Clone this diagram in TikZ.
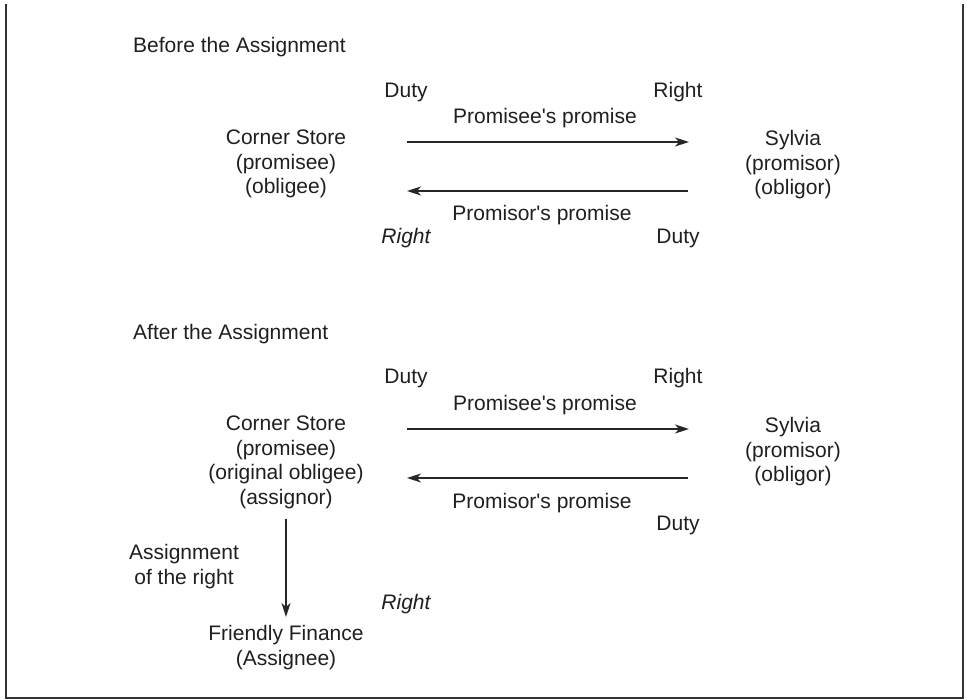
\documentclass[tikz,border=0pt]{standalone}
\usepackage{fontspec}
\setmainfont{Liberation Sans}
\usetikzlibrary{arrows.meta}
\begin{document}
\begin{tikzpicture}[x=1pt,y=-1pt,
  lbl/.style={inner sep=0pt, anchor=base, font=\fontsize{21}{24.5}\selectfont, text=black!88},
  blk/.style={lbl, align=center},
  title/.style={lbl, anchor=base west},
  arr/.style={line width=1.4pt, draw=black!85, -{Stealth[length=14pt,width=9pt,inset=4pt]}},
  frame/.style={line width=2pt, draw=black!80}]
\useasboundingbox (0,0) rectangle (967,700);
% frame
\draw[frame] (6,4) -- (6,698) -- (963,698) -- (963,4);

% ---------- Before the Assignment ----------
\node[title] (t1) at (133,53) {Before the Assignment};
\node[lbl] (duty1) at (406,98) {Duty};
\node[lbl] (right1) at (678,98) {Right};
\node[lbl] (pee1) at (545,124) {Promisee\textquotesingle s promise};
\node[blk] (cs1) at (286,194) {Corner Store\\(promisee)\\(obligee)};
\node[blk] (sy1) at (793,195) {Sylvia\\(promisor)\\(obligor)};
\node[lbl] (por1) at (542,221) {Promisor\textquotesingle s promise};
\node[lbl, font=\fontsize{21}{24.5}\selectfont\itshape] (righti1) at (406,244) {Right};
\node[lbl] (dutyb1) at (678,244) {Duty};
\coordinate (a1s) at (407,142);
\coordinate (a1e) at (689,142);
\coordinate (b1s) at (688,191);
\coordinate (b1e) at (407,191);
\draw[arr] (a1s) -- (a1e);
\draw[arr] (b1s) -- (b1e);

% ---------- After the Assignment ----------
\node[title] (t2) at (133,340) {After the Assignment};
\node[lbl] (duty2) at (406,384) {Duty};
\node[lbl] (right2) at (678,384) {Right};
\node[lbl] (pee2) at (545,411) {Promisee\textquotesingle s promise};
\node[blk] (cs2) at (286,504) {Corner Store\\(promisee)\\(original obligee)\\(assignor)};
\node[blk] (sy2) at (793,482) {Sylvia\\(promisor)\\(obligor)};
\node[lbl] (por2) at (542,508) {Promisor\textquotesingle s promise};
\node[lbl] (dutyb2) at (678,530) {Duty};
\node[blk] (asg) at (184,584) {Assignment\\of the right};
\node[lbl, font=\fontsize{21}{24.5}\selectfont\itshape] (righti2) at (406,609) {Right};
\node[blk] (ff) at (286,665) {Friendly Finance\\(Assignee)};
\coordinate (a2s) at (407,429);
\coordinate (a2e) at (689,429);
\coordinate (b2s) at (688,478);
\coordinate (b2e) at (407,478);
\draw[arr] (a2s) -- (a2e);
\draw[arr] (b2s) -- (b2e);
\draw[arr] (cs2.south) ++(0,10) coordinate (vs) (vs) -- (ff.north |- 0,617);
\end{tikzpicture}
\end{document}
